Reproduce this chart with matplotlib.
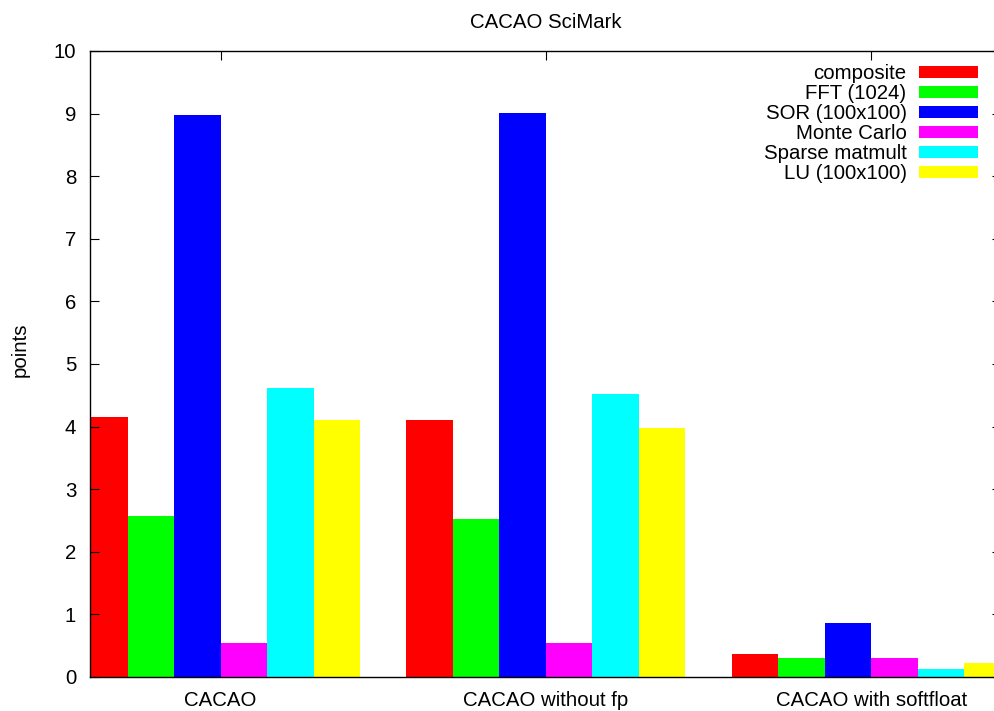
import matplotlib.pyplot as plt
import numpy as np

plt.rcParams['font.family'] = ['Liberation Sans', 'DejaVu Sans']
plt.rcParams['font.size'] = 14.7

groups = ["CACAO", "CACAO without fp", "CACAO with softfloat"]
series = ["composite", "FFT (1024)", "SOR (100x100)", "Monte Carlo",
          "Sparse matmult", "LU (100x100)"]
colors = ["#ff0000", "#00ff00", "#0000ff", "#ff00ff", "#00ffff", "#ffff00"]

composite = [4.16, 4.11, 0.37]
fft = [2.57, 2.52, 0.31]
sor = [8.98, 9.01, 0.87]
monte_carlo = [0.54, 0.54, 0.30]
sparse = [4.61, 4.52, 0.12]
lu = [4.11, 3.98, 0.23]
values = [composite, fft, sor, monte_carlo, sparse, lu]

W, H = 994, 711
fig = plt.figure(figsize=(W / 100, H / 100), dpi=100)
ax = fig.add_axes([90 / W, 34 / H, 911 / W, 626 / H])

w = 1.0 / 7
x = np.arange(len(groups))
for j, (name, vals) in enumerate(zip(series, values)):
    ax.bar(x + (j - 2.5) * w, vals, width=w, color=colors[j], label=name,
           linewidth=0)

ax.set_xlim(-0.401, 2.398)
ax.set_ylim(0, 10)
ax.set_yticks(range(0, 11))
ax.set_xticks(x)
ax.set_xticklabels(groups)
ax.tick_params(axis='both', direction='in', length=6.5, width=0.8,
               top=True, right=True, colors='black')
ax.tick_params(axis='x', bottom=False, pad=10)
ax.tick_params(axis='y', pad=10)
for s in ax.spines.values():
    s.set_linewidth(1.0)

fig.text(20 / W, 1 - 350 / H, "points", rotation=90, ha='center', va='center')
fig.text(546 / W, 1 - 22 / H, "CACAO SciMark", ha='center', va='center')

ax.legend(loc='upper right', bbox_to_anchor=(978 / W, 1 - 64 / H),
          bbox_transform=fig.transFigure, frameon=False, markerfirst=False,
          handlelength=2.9, handleheight=0.55, handletextpad=0.6,
          labelspacing=0.05, borderpad=0, borderaxespad=0)

fig.savefig("out.png", dpi=100)
